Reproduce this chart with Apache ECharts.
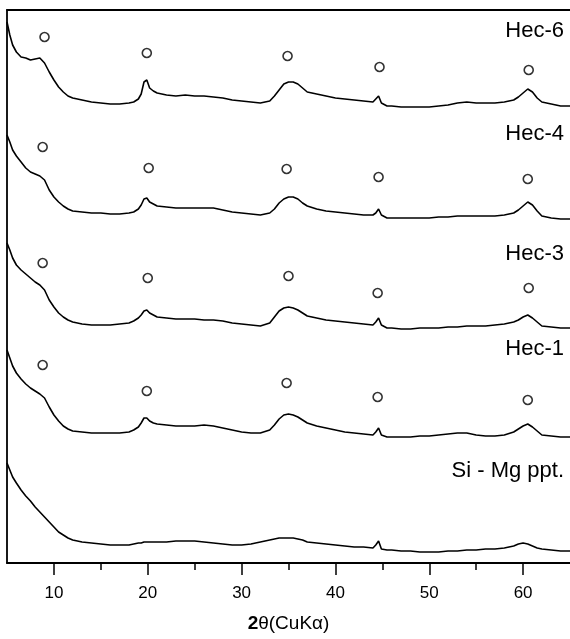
<!DOCTYPE html>
<html>
<head>
<meta charset="utf-8">
<script src="https://cdn.jsdelivr.net/npm/echarts@6/dist/echarts.min.js"></script>
<style>
html,body{margin:0;padding:0;background:#fff;}
#main{width:570px;height:639px;}
</style>
</head>
<body>
<div id="main"></div>
<script>
// 2θ 采样点（所有曲线共用）
var theta = [5, 5.3, 5.6, 6, 6.5, 7, 7.5, 8, 8.5, 9, 9.5, 10, 10.5, 11, 11.5, 12, 13, 14, 15, 16,
	17, 18, 18.5, 19, 19.3, 19.6, 19.9, 20.2, 20.6, 21, 22, 23, 24, 25, 26, 27, 28, 29, 30, 31,
	32, 33, 33.5, 34, 34.5, 35, 35.5, 36, 36.5, 37, 38, 39, 40, 41, 42, 43, 44, 44.3, 44.6, 44.9,
	45.5, 46, 47, 48, 49, 50, 51, 52, 53, 54, 55, 56, 57, 58, 59, 59.5, 60, 60.5, 61, 61.5,
	62, 63, 64, 65];

// 强度（已叠加偏移）
var hec6 = [541, 528, 518, 511, 506, 505, 503, 504, 505, 500, 491, 483, 476, 471, 467, 465, 463, 461, 460, 459,
	459, 460, 461, 464, 469, 481, 483, 475, 472, 470, 468, 467, 468, 467, 467, 466, 465, 463, 462, 461,
	460, 462, 467, 473, 479, 481, 481, 479, 475, 471, 469, 467, 465, 464, 463, 462, 461, 464, 467, 460,
	457, 457, 456, 456, 456, 456, 457, 458, 460, 461, 460, 460, 460, 461, 463, 466, 470, 474, 471, 465,
	461, 459, 457, 457];
var hec4 = [428, 421, 413, 407, 401, 395, 391, 389, 387, 383, 373, 366, 361, 357, 354, 352, 351, 350, 350, 349,
	349, 350, 351, 354, 358, 364, 365, 361, 359, 357, 356, 355, 355, 355, 355, 355, 353, 351, 350, 349,
	348, 350, 354, 360, 364, 366, 366, 364, 360, 357, 354, 352, 351, 350, 349, 348, 348, 350, 354, 348,
	345, 345, 345, 345, 345, 345, 346, 346, 347, 347, 347, 347, 347, 348, 350, 353, 357, 361, 358, 352,
	347, 345, 344, 344];
var hec3 = [320, 313, 305, 298, 293, 289, 285, 281, 278, 273, 263, 256, 250, 246, 243, 241, 239, 238, 238, 238,
	239, 240, 242, 245, 248, 252, 253, 250, 248, 246, 245, 244, 244, 244, 243, 243, 242, 240, 239, 238,
	237, 240, 246, 252, 255, 256, 255, 253, 250, 247, 245, 243, 242, 241, 240, 239, 238, 241, 245, 238,
	235, 235, 234, 234, 235, 235, 235, 236, 236, 237, 237, 237, 238, 239, 241, 243, 246, 248, 245, 241,
	237, 236, 235, 235];
var hec1 = [213, 205, 197, 190, 184, 179, 175, 172, 169, 165, 156, 148, 142, 137, 134, 132, 131, 130, 130, 130,
	130, 131, 133, 136, 140, 145, 145, 142, 140, 139, 138, 137, 137, 137, 138, 137, 135, 133, 131, 130,
	130, 133, 138, 144, 148, 149, 148, 146, 143, 140, 137, 135, 133, 131, 130, 129, 128, 131, 135, 128,
	126, 126, 126, 126, 127, 127, 128, 129, 130, 130, 128, 127, 127, 128, 131, 134, 137, 139, 136, 132,
	128, 127, 126, 126];
var simg = [100, 93, 86, 80, 73, 67, 62, 56, 51, 46, 41, 36, 31, 28, 25, 23, 21, 20, 19, 18,
	18, 18, 19, 20, 20, 21, 21, 21, 21, 21, 21, 22, 22, 22, 21, 20, 19, 18, 18, 19,
	21, 23, 24, 25, 25, 25, 25, 24, 23, 21, 20, 19, 18, 17, 16, 16, 15, 18, 22, 14,
	13, 13, 12, 12, 11, 11, 11, 12, 12, 13, 13, 14, 14, 15, 17, 19, 20, 19, 17, 15,
	14, 13, 12, 12];

// 峰位标记 (o)
var markTheta6 = [9.0, 19.9, 34.9, 44.7, 60.6];
var markVal6 = [526, 510, 507, 496, 493];
var markTheta4 = [8.8, 20.1, 34.8, 44.6, 60.5];
var markVal4 = [416, 395, 394, 386, 384];
var markTheta3 = [8.8, 20.0, 35.0, 44.5, 60.6];
var markVal3 = [300, 285, 287, 270, 275];
var markTheta1 = [8.8, 19.9, 34.8, 44.5, 60.5];
var markVal1 = [198, 172, 180, 166, 163];

var majorTicks = [10, 20, 30, 40, 50, 60];
var minorTicks = [15, 25, 35, 45, 55];

function pairs(xs, ys) {
	var out = [];
	for (var i = 0; i < xs.length; i++) {
		out.push([xs[i], ys[i]]);
	}
	return out;
}

function lineSeries(name, ys) {
	return {
		name : name,
		type : 'line',
		data : pairs(theta, ys),
		showSymbol : false,
		smooth : false,
		lineStyle : { color : '#000', width : 1.6 },
		silent : true,
		z : 2
	};
}

function markSeries(xs, ys) {
	return {
		type : 'scatter',
		data : pairs(xs, ys),
		symbol : 'circle',
		symbolSize : 9,
		itemStyle : { color : '#fff', borderColor : '#000', borderWidth : 1.6 },
		silent : true,
		z : 3
	};
}

function label(text, y) {
	return {
		type : 'text',
		right : 6,
		top : y - 13,
		style : { text : text, fill : '#000', font : '22px "Liberation Sans", Arial, sans-serif' }
	};
}

var myChart = echarts.init(document.getElementById('main'));
var option = {
	animation : false,
	backgroundColor : '#fff',
	grid : { left : 7, right : 0, top : 10, bottom : 76 },
	xAxis : [ {
		type : 'value',
		min : 5,
		max : 65,
		axisLine : { show : true, lineStyle : { color : '#000', width : 1.8 } },
		axisTick : { show : true, customValues : majorTicks, length : 12, lineStyle : { color : '#000', width : 1.5 } },
		axisLabel : {
			customValues : majorTicks,
			margin : 22,
			color : '#000',
			fontSize : 17,
			fontFamily : 'Liberation Sans'
		},
		splitLine : { show : false },
		name : '{b|2}θ(CuKα)',
		nameLocation : 'middle',
		nameGap : 51,
		nameTextStyle : {
			color : '#000',
			fontSize : 19,
			fontFamily : 'Liberation Sans',
			rich : { b : { fontSize : 19, fontWeight : 'bold', fontFamily : 'Liberation Sans', color : '#000' } }
		}
	}, {
		type : 'value',
		min : 5,
		max : 65,
		position : 'bottom',
		axisLine : { show : false },
		axisTick : { show : true, customValues : minorTicks, length : 7, lineStyle : { color : '#000', width : 1.5 } },
		axisLabel : { show : false },
		splitLine : { show : false }
	}, {
		type : 'value',
		min : 5,
		max : 65,
		position : 'top',
		axisLine : { show : true, lineStyle : { color : '#000', width : 1.8 } },
		axisTick : { show : false },
		axisLabel : { show : false },
		splitLine : { show : false }
	} ],
	yAxis : {
		type : 'value',
		min : 0,
		max : 553,
		axisLine : { show : true, lineStyle : { color : '#000', width : 1.8 } },
		axisTick : { show : false },
		axisLabel : { show : false },
		splitLine : { show : false }
	},
	graphic : [
		label('Hec-6', 33),
		label('Hec-4', 136),
		label('Hec-3', 256),
		label('Hec-1', 351),
		label('Si - Mg ppt.', 473)
	],
	series : [
		lineSeries('Hec-6', hec6),
		lineSeries('Hec-4', hec4),
		lineSeries('Hec-3', hec3),
		lineSeries('Hec-1', hec1),
		lineSeries('Si-Mg ppt.', simg),
		markSeries(markTheta6, markVal6),
		markSeries(markTheta4, markVal4),
		markSeries(markTheta3, markVal3),
		markSeries(markTheta1, markVal1)
	]
};
myChart.setOption(option);
</script>
</body>
</html>
